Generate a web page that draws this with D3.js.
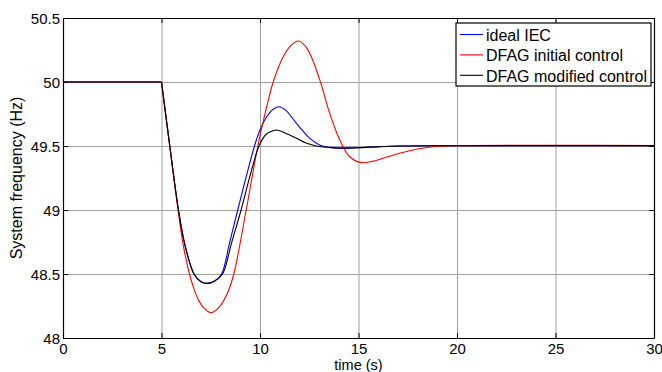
<!DOCTYPE html>
<html>
<head>
<meta charset="utf-8">
<script src="https://cdn.jsdelivr.net/npm/d3@7"></script>
<style>
  html, body { margin: 0; padding: 0; background: #fff; }
  svg { display: block; }
  text { font-family: "Liberation Sans", Arial, Helvetica, sans-serif; fill: #000; }
</style>
</head>
<body>
<svg id="chart" width="662" height="372"></svg>
<script>
// Frequency response after a load step at t = 5 s

const xTicks = [0, 5, 10, 15, 20, 25, 30];
const xTickLabels = ["0", "5", "10", "15", "20", "25", "30"];
const yTicks = [48, 48.5, 49, 49.5, 50, 50.5];
const yTickLabels = ["48", "48.5", "49", "49.5", "50", "50.5"];

const seriesNames = ["ideal IEC", "DFAG initial control", "DFAG modified control"];
const seriesColors = ["#0000ff", "#ff0000", "#000000"];

// ideal IEC
const iecTime = [0, 5, 5.42, 5.86, 6.2, 6.65, 7.0, 7.35, 7.7, 8.05, 8.45, 8.87, 9.3, 9.72, 10.0, 10.35, 10.65, 10.97, 11.3, 11.85, 12.02, 12.53, 13.03, 13.71, 14.55, 15.4, 17.09, 20, 25, 30];
const iecFreq = [50, 50, 49.5, 49.0, 48.72, 48.5, 48.44, 48.427, 48.445, 48.5, 48.74, 49.0, 49.26, 49.5, 49.625, 49.73, 49.785, 49.807, 49.78, 49.677, 49.646, 49.56, 49.508, 49.484, 49.482, 49.49, 49.5, 49.502, 49.503, 49.503];

// DFAG initial control
const initTime = [0, 5, 5.42, 5.84, 6.1, 6.42, 6.68, 6.9, 7.1, 7.52, 7.95, 8.37, 8.67, 9.3, 9.89, 10.3, 10.67, 11.18, 11.6, 11.97, 12.3, 12.6, 13.07, 13.54, 14.05, 14.55, 15.14, 15.7, 16.24, 17.09, 17.94, 18.78, 19.96, 25, 30];
const initFreq = [50, 50, 49.5, 49.0, 48.73, 48.5, 48.37, 48.29, 48.245, 48.198, 48.245, 48.36, 48.5, 49.0, 49.5, 49.78, 50.0, 50.198, 50.29, 50.32, 50.28, 50.2, 50.0, 49.755, 49.547, 49.416, 49.37, 49.38, 49.404, 49.443, 49.474, 49.494, 49.502, 49.505, 49.503];

// DFAG modified control
const modTime = [0, 5, 5.42, 5.86, 6.2, 6.65, 7.0, 7.35, 7.7, 8.1, 8.55, 9.04, 9.5, 9.95, 10.3, 10.6, 10.84, 11.3, 11.85, 12.3, 12.86, 13.71, 15, 17.09, 20, 25, 30];
const modFreq = [50, 50, 49.5, 49.0, 48.72, 48.5, 48.44, 48.427, 48.445, 48.5, 48.74, 49.0, 49.27, 49.5, 49.59, 49.615, 49.625, 49.6, 49.56, 49.525, 49.5, 49.487, 49.487, 49.5, 49.502, 49.503, 49.503];

const stepTime = 5;

const svg = d3.select("#chart");
const margin = { left: 63, top: 18, right: 8, bottom: 34 };
const W = 662, H = 372;
const plotW = W - margin.left - margin.right;   // 591
const plotH = H - margin.top - margin.bottom;   // 320

const x = d3.scaleLinear().domain([0, 30]).range([0, plotW]);
const y = d3.scaleLinear().domain([48, 50.5]).range([plotH, 0]);

const g = svg.append("g").attr("transform", `translate(${margin.left},${margin.top})`);

// grid
g.append("g")
  .attr("transform", `translate(0,${plotH})`)
  .call(d3.axisBottom(x).tickValues(xTicks).tickSize(-plotH).tickFormat(""))
  .call(s => s.select(".domain").remove())
  .call(s => s.selectAll("line").attr("stroke", "#a0a0a0").attr("stroke-width", 1));
g.append("g")
  .call(d3.axisLeft(y).tickValues(yTicks).tickSize(-plotW).tickFormat(""))
  .call(s => s.select(".domain").remove())
  .call(s => s.selectAll("line").attr("stroke", "#a0a0a0").attr("stroke-width", 1));

// curves: flat pre-step part drawn straight, dynamic part smoothed
const series = [
  { t: iecTime, f: iecFreq },
  { t: initTime, f: initFreq },
  { t: modTime, f: modFreq }
];

const flatLine = d3.line().x(d => x(d[0])).y(d => y(d[1]));
const smoothLine = d3.line().x(d => x(d[0])).y(d => y(d[1])).curve(d3.curveCatmullRom.alpha(0.5));

svg.append("clipPath").attr("id", "plotclip")
  .append("rect").attr("x", 0).attr("y", 0).attr("width", plotW).attr("height", plotH);

const curves = g.append("g").attr("clip-path", "url(#plotclip)");
series.forEach((s, i) => {
  const pts = s.t.map((t, k) => [t, s.f[k]]);
  const before = pts.filter(p => p[0] <= stepTime);
  const after = pts.filter(p => p[0] >= stepTime);
  curves.append("path").attr("d", flatLine(before))
    .attr("fill", "none").attr("stroke", seriesColors[i]).attr("stroke-width", 1.1);
  curves.append("path").attr("d", smoothLine(after))
    .attr("fill", "none").attr("stroke", seriesColors[i]).attr("stroke-width", 1.1);
});

// axes with inward ticks on all four sides
function styleAxis(s) {
  s.select(".domain").attr("stroke", "#000").attr("stroke-width", 1.2);
  s.selectAll(".tick line").attr("stroke", "#000").attr("stroke-width", 1);
  s.selectAll("text").style("font-size", "15px").attr("fill", "#000");
}
g.append("g")
  .attr("transform", `translate(0,${plotH})`)
  .call(d3.axisBottom(x).tickValues(xTicks).tickSizeInner(-5).tickSizeOuter(0).tickPadding(5)
    .tickFormat((d, i) => xTickLabels[i]))
  .call(styleAxis);
g.append("g")
  .call(d3.axisLeft(y).tickValues(yTicks).tickSizeInner(-5).tickSizeOuter(0).tickPadding(3)
    .tickFormat((d, i) => yTickLabels[i]))
  .call(styleAxis)
  .call(s => s.selectAll("text").attr("dy", "0.36em"));
g.append("g")
  .call(d3.axisTop(x).tickValues(xTicks).tickSizeInner(-5).tickSizeOuter(0).tickFormat(""))
  .call(styleAxis);
g.append("g")
  .attr("transform", `translate(${plotW},0)`)
  .call(d3.axisRight(y).tickValues(yTicks).tickSizeInner(-5).tickSizeOuter(0).tickFormat(""))
  .call(styleAxis);

// axis titles
svg.append("text")
  .attr("x", margin.left + plotW / 2).attr("y", 370)
  .attr("text-anchor", "middle").style("font-size", "14.5px")
  .text("time (s)");
svg.append("text")
  .attr("transform", `translate(21.5,${margin.top + plotH / 2}) rotate(-90)`)
  .attr("text-anchor", "middle").style("font-size", "16px")
  .text("System frequency (Hz)");

// legend
const lg = svg.append("g").attr("transform", "translate(456,23)");
lg.append("rect").attr("x", 0).attr("y", 0).attr("width", 195).attr("height", 63)
  .attr("fill", "#fff").attr("stroke", "#000").attr("stroke-width", 1.2);
seriesNames.forEach((name, i) => {
  const cy = 11.5 + i * 20.4;
  lg.append("line").attr("x1", 4).attr("x2", 27).attr("y1", cy).attr("y2", cy)
    .attr("stroke", seriesColors[i]).attr("stroke-width", 1.1);
  lg.append("text").attr("x", 30).attr("y", cy + 6.2).style("font-size", "16px").text(name);
});
</script>
</body>
</html>
